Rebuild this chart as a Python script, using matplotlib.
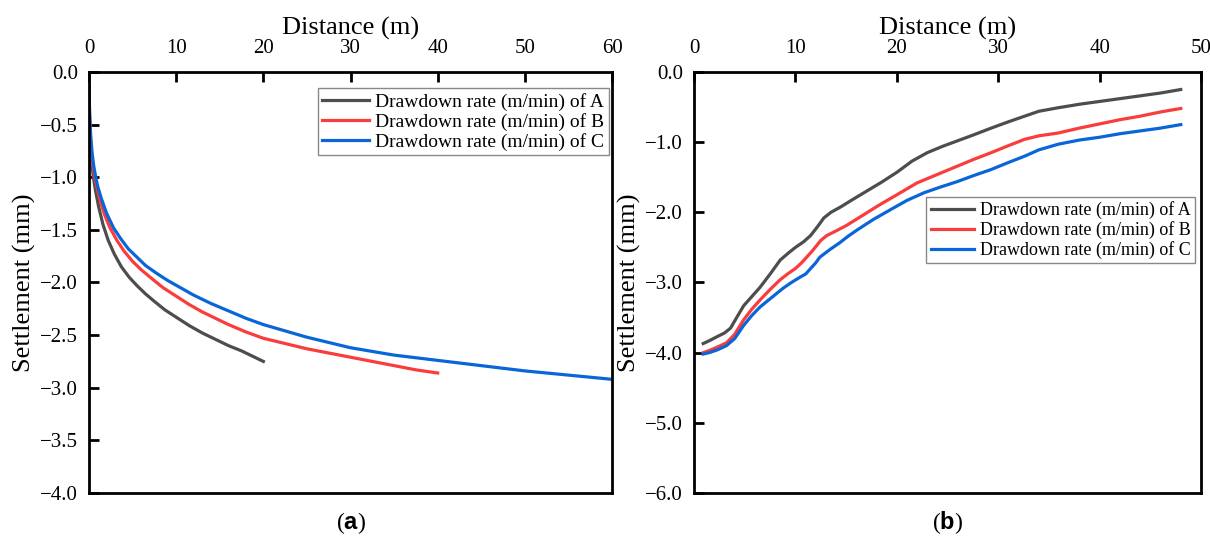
import matplotlib
matplotlib.use("Agg")
import matplotlib.pyplot as plt
from matplotlib.ticker import FuncFormatter

plt.rcParams['font.family'] = ['Liberation Serif', 'DejaVu Serif']
plt.rcParams['mathtext.fontset'] = 'custom'
plt.rcParams['mathtext.bf'] = 'Liberation Sans:bold'

# panel (a): settlement vs distance
a_x_A = [0, 0.02, 0.05, 0.1, 0.2, 0.35, 0.5, 0.75, 1.1, 1.6, 2.2, 2.9, 3.7, 4.6, 5.5, 6.5, 7.5, 8.7,
         10.0, 11.5, 13.0, 14.5, 16.0, 17.5, 19.0, 20.0]
a_y_A = [0, -0.25, -0.42, -0.57, -0.74, -0.9, -1.0, -1.13, -1.28, -1.45, -1.6, -1.73, -1.85, -1.95, -2.03,
         -2.11, -2.18, -2.26, -2.33, -2.41, -2.48, -2.54, -2.6, -2.65, -2.71, -2.75]
a_x_B = [0, 0.02, 0.05, 0.1, 0.2, 0.4, 0.65, 0.9, 1.3, 1.8, 2.4, 3.2, 4.0, 5.0, 6.0, 7.3, 8.5, 10.0,
         11.5, 13.0, 14.5, 16.0, 18.0, 20.0, 22.5, 25.0, 27.5, 30.0, 32.5, 35.0, 37.5, 40.0]
a_y_B = [0, -0.22, -0.38, -0.52, -0.68, -0.86, -1.0, -1.1, -1.23, -1.36, -1.48, -1.6, -1.7, -1.8, -1.88,
         -1.97, -2.05, -2.13, -2.21, -2.28, -2.34, -2.4, -2.47, -2.53, -2.58, -2.63, -2.67, -2.71, -2.75,
         -2.79, -2.83, -2.86]
a_x_C = [0, 0.02, 0.05, 0.1, 0.2, 0.35, 0.55, 0.77, 1.0, 1.4, 2.0, 2.8, 3.6, 4.5, 5.5, 6.5, 7.7, 9.0,
         10.5, 12.0, 14.0, 16.0, 18.0, 20.0, 22.5, 25.0, 27.5, 30.0, 35.0, 40.0, 45.0, 50.0, 55.0, 60.0]
a_y_C = [0, -0.2, -0.35, -0.48, -0.62, -0.77, -0.9, -1.0, -1.09, -1.2, -1.34, -1.48, -1.58, -1.68, -1.76,
         -1.84, -1.91, -1.98, -2.05, -2.12, -2.2, -2.27, -2.34, -2.4, -2.46, -2.52, -2.57, -2.62, -2.69,
         -2.74, -2.79, -2.84, -2.88, -2.92]

# panel (b)
b_x_A = [0.9, 1.5, 2.3, 3.0, 3.6, 4.2, 4.9, 5.7, 6.5, 7.5, 8.5, 9.3, 10.0, 10.8, 11.5, 12.2, 12.8, 13.5,
         14.5, 15.5, 17.0, 18.5, 20.0, 21.5, 23.0, 24.5, 26.0, 27.5, 29.3, 31.0, 32.6, 34.0, 35.9, 38.0,
         40.0, 42.0, 44.0, 46.0, 48.0]
b_y_A = [-3.87, -3.83, -3.77, -3.72, -3.65, -3.5, -3.33, -3.2, -3.07, -2.88, -2.68, -2.58, -2.5, -2.42,
         -2.33, -2.2, -2.08, -2.0, -1.92, -1.83, -1.7, -1.57, -1.43, -1.27, -1.15, -1.06, -0.98, -0.9, -0.8,
         -0.71, -0.63, -0.56, -0.51, -0.46, -0.42, -0.38, -0.34, -0.3, -0.25]
b_x_B = [0.9, 1.5, 2.3, 3.2, 4.0, 4.9, 5.7, 6.5, 7.5, 8.5, 9.3, 10.0, 10.6, 11.1, 11.6, 12.0, 12.5, 13.1,
         13.8, 15.0, 16.0, 17.0, 18.1, 20.0, 22.0, 24.0, 26.0, 27.5, 29.3, 31.0, 32.6, 34.0, 35.9, 38.0,
         40.0, 42.0, 44.0, 46.0, 48.0]
b_y_B = [-4.0, -3.97, -3.92, -3.86, -3.74, -3.53, -3.38, -3.25, -3.1, -2.96, -2.87, -2.8, -2.72, -2.64,
         -2.56, -2.49, -2.4, -2.33, -2.28, -2.19, -2.1, -2.01, -1.91, -1.75, -1.58, -1.46, -1.34, -1.25,
         -1.15, -1.05, -0.96, -0.91, -0.87, -0.8, -0.74, -0.68, -0.63, -0.57, -0.52]
b_x_C = [0.9, 1.5, 2.3, 3.2, 4.0, 4.9, 5.7, 6.5, 7.6, 8.8, 9.6, 10.5, 11.0, 11.5, 12.0, 12.4, 13.4, 14.4,
         15.2, 16.1, 17.7, 19.4, 21.0, 22.7, 24.3, 26.0, 27.5, 29.3, 31.0, 32.6, 34.0, 35.9, 38.0, 40.0,
         42.0, 44.0, 46.0, 48.0]
b_y_C = [-4.02, -4.0, -3.96, -3.9, -3.8, -3.61, -3.47, -3.35, -3.22, -3.08, -3.0, -2.92, -2.88, -2.8,
         -2.72, -2.64, -2.53, -2.43, -2.34, -2.25, -2.1, -1.96, -1.83, -1.72, -1.64, -1.56, -1.48, -1.39,
         -1.29, -1.2, -1.11, -1.03, -0.97, -0.93, -0.88, -0.84, -0.8, -0.75]

labels = ['Drawdown rate (m/min) of A', 'Drawdown rate (m/min) of B', 'Drawdown rate (m/min) of C']
colors = ['#4d4d4d', '#fa3c3c', '#0a66d8']

fig = plt.figure(figsize=(12.1, 5.42), dpi=100)
ax1 = fig.add_axes([0.0736, 0.0904, 0.4322, 0.7768])
ax2 = fig.add_axes([0.5736, 0.0904, 0.4190, 0.7768])

minus_fmt = FuncFormatter(lambda v, p: ('%.1f' % v).replace('-', '\u2212'))


def style(ax, xmax, xstep, ymin, ystep):
    ax.xaxis.tick_top()
    ax.xaxis.set_label_position('top')
    ax.set_xlim(0, xmax)
    ax.set_ylim(ymin, 0)
    ax.set_xticks(range(0, xmax + 1, xstep))
    n = int(round(-ymin / ystep))
    ax.set_yticks([-i * ystep for i in range(n + 1)])
    ax.yaxis.set_major_formatter(minus_fmt)
    ax.tick_params(direction='in', length=7, width=2, labelsize=15)
    ax.tick_params(axis='x', pad=10)
    ax.tick_params(axis='y', pad=8)
    for s in ax.spines.values():
        s.set_linewidth(2)
    ax.set_xlabel('Distance (m)', fontsize=19, labelpad=3)
    ax.set_ylabel('Settlement (mm)', fontsize=19, labelpad=3)


ax1.plot(a_x_A, a_y_A, color=colors[0], lw=2.3, label=labels[0])
ax1.plot(a_x_B, a_y_B, color=colors[1], lw=2.3, label=labels[1])
ax1.plot(a_x_C, a_y_C, color=colors[2], lw=2.3, label=labels[2])
style(ax1, 60, 10, -4.0, 0.5)
ax1.legend(loc='upper right', bbox_to_anchor=(0.994, 0.962), fontsize=14, frameon=True,
           fancybox=False, edgecolor='#888888', framealpha=1, handlelength=2.4,
           borderpad=0.25, labelspacing=0.1, handletextpad=0.3, borderaxespad=0)

ax2.plot(b_x_A, b_y_A, color=colors[0], lw=2.3, label=labels[0])
ax2.plot(b_x_B, b_y_B, color=colors[1], lw=2.3, label=labels[1])
ax2.plot(b_x_C, b_y_C, color=colors[2], lw=2.3, label=labels[2])
style(ax2, 50, 10, -6.0, 1.0)
ax2.legend(loc='upper right', bbox_to_anchor=(0.988, 0.703), fontsize=13, frameon=True,
           fancybox=False, edgecolor='#888888', framealpha=1, handlelength=2.4,
           borderpad=0.25, labelspacing=0.1, handletextpad=0.3, borderaxespad=0)

fig.text(0.2897, 0.035, r'($\mathbf{a}$)', ha='center', va='center', fontsize=17)
fig.text(0.7831, 0.035, r'($\mathbf{b}$)', ha='center', va='center', fontsize=17)

fig.savefig('out.png', dpi=100)
